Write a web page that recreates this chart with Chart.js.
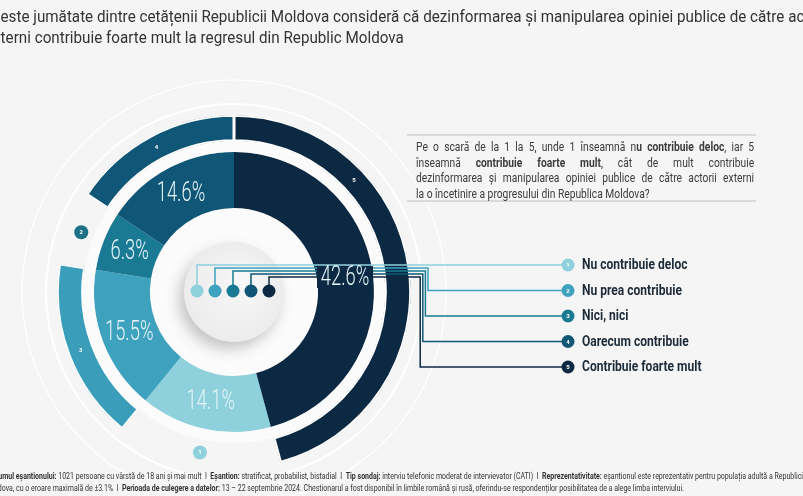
<!DOCTYPE html>
<html>
<head>
<meta charset="utf-8">
<script src="https://cdn.jsdelivr.net/npm/chart.js@4.4.1/dist/chart.umd.min.js"></script>
<style>
html, body { margin: 0; padding: 0; }
body { width: 803px; height: 496px; overflow: hidden; background: #f5f5f5; position: relative; font-family: Roboto, "Noto Sans", sans-serif; }
#c { position: absolute; left: 0; top: 0; }
.title { position: absolute; font-size: 17px; color: #333; line-height: 21px; white-space: nowrap; transform: scaleX(0.895); transform-origin: 0 0; }
.q { position: absolute; left: 407px; top: 134px; width: 349px; height: 64px; border-top: 2px solid #dadada; border-bottom: 2px solid #dadada; }
.q .t { position: absolute; left: 9px; top: 3px; width: 428px; transform: scaleX(0.79); transform-origin: 0 0; font-size: 13px; line-height: 15.7px; color: #3c3c3c; }
.q .t div { text-align: justify; text-align-last: justify; white-space: nowrap; }
.q .t div.last { text-align-last: left; }
.foot { position: absolute; font-size: 8.5px; line-height: 11px; color: #333; white-space: nowrap; transform: scaleX(0.825); transform-origin: 0 0; }
</style>
</head>
<body>
<canvas id="c" width="803" height="496"></canvas>

<div class="title" style="left:-9px; top:6px;">Peste jumătate dintre cetățenii Republicii Moldova consideră că dezinformarea și manipularea opiniei publice de către actorii</div>
<div class="title" style="left:-15px; top:27px;">externi contribuie foarte mult la regresul din Republic Moldova</div>

<div class="q"><div class="t">
  <div>Pe o scară de la 1 la 5, unde 1 înseamnă n<b>u contribuie deloc</b>, iar 5</div>
  <div>înseamnă <b>contribuie foarte mult</b>, cât de mult contribuie</div>
  <div>dezinformarea și manipularea opiniei publice de către actorii externi</div>
  <div class="last">la o încetinire a progresului din Republica Moldova?</div>
</div></div>

<div class="foot" style="left:-12px; top:471px;"><b>Volumul eșantionului:</b> 1021 persoane cu vârstă de 18 ani și mai mult &nbsp;I&nbsp; <b>Eșantion:</b> stratificat, probabilist, bistadial &nbsp;I&nbsp; <b>Tip sondaj:</b> interviu telefonic moderat de intervievator (CATI) &nbsp;I&nbsp; <b>Reprezentativitate:</b> eșantionul este reprezentativ pentru populația adultă a Republicii</div>
<div class="foot" style="left:-14px; top:483px;">Moldova, cu o eroare maximală de ±3.1% &nbsp;I&nbsp; <b>Perioada de culegere a datelor:</b> 13 – 22 septembrie 2024. Chestionarul a fost disponibil în limbile română și rusă, oferindu-se respondenților posibilitatea de a alege limba interviului.</div>

<script>
var categories = ['Nu contribuie deloc', 'Nu prea contribuie', 'Nici, nici', 'Oarecum contribuie', 'Contribuie foarte mult'];
var values = [14.1, 15.5, 6.3, 14.6, 42.6];
var legendTags = ['1', '2', '3', '4', '5'];
// outer ring: some answers get a band, the others only a small badge
var outerTags = ['1', '3', '2', '4', '5'];
var outerIsBand = [false, true, false, true, true];

var colors = ['#8fd0dd', '#3ea1be', '#1a7a94', '#0f5677', '#0c2943'];
var outerColors = ['#8fd0dd', '#3a9dba', '#1b6f87', '#0f5677', '#0c2943'];

var total = values.reduce(function(a, b) { return a + b; }, 0);
// the last answer starts at the top, the rest follow clockwise
var startAngle = values[values.length - 1] / total * 360;

function scaledText(ctx, txt, x, y, font, sx, color) {
    ctx.save();
    ctx.translate(x, y);
    ctx.scale(sx, 1);
    ctx.font = font;
    ctx.fillStyle = color;
    ctx.fillText(txt, 0, 0);
    ctx.restore();
}

function badge(ctx, x, y, r, color, txt) {
    ctx.beginPath();
    ctx.arc(x, y, r, 0, Math.PI * 2);
    ctx.fillStyle = color;
    ctx.fill();
    ctx.textAlign = 'center';
    ctx.textBaseline = 'middle';
    ctx.font = 'bold 6px Roboto';
    ctx.fillStyle = '#ffffff';
    ctx.fillText(txt, x, y + 0.5);
}

var deco = {
    id: 'deco',
    beforeDatasetsDraw: function(chart) {
        var ctx = chart.ctx;
        var a = chart.getDatasetMeta(2).data[0];
        ctx.save();
        ctx.strokeStyle = '#ffffff';
        ctx.lineWidth = 2;
        ctx.beginPath(); ctx.arc(a.x, a.y, 188, 0, Math.PI * 2); ctx.stroke();
        ctx.lineWidth = 1.2;
        ctx.beginPath(); ctx.arc(a.x, a.y, 212, 0, Math.PI * 2); ctx.stroke();
        ctx.fillStyle = '#fbfbfb';
        ctx.beginPath(); ctx.arc(a.x, a.y, a.innerRadius, 0, Math.PI * 2); ctx.fill();
        ctx.restore();
    },
    afterDatasetsDraw: function(chart) {
        var ctx = chart.ctx;
        var inner = chart.getDatasetMeta(2).data;
        var outer = chart.getDatasetMeta(0).data;
        var cx = inner[0].x, cy = inner[0].y;
        ctx.save();

        // center disc
        ctx.save();
        ctx.shadowColor = 'rgba(0,0,0,0.22)';
        ctx.shadowBlur = 14;
        ctx.shadowOffsetX = -5;
        ctx.shadowOffsetY = 7;
        var g = ctx.createRadialGradient(cx + 10, cy - 10, 5, cx, cy, 50);
        g.addColorStop(0, '#f7f7f7');
        g.addColorStop(1, '#ececec');
        ctx.fillStyle = g;
        ctx.beginPath(); ctx.arc(cx, cy, 50, 0, Math.PI * 2); ctx.fill();
        ctx.restore();

        // tags on the outer ring
        outer.forEach(function(arc, i) {
            var span = arc.endAngle - arc.startAngle;
            var mid = (arc.innerRadius + arc.outerRadius) / 2;
            if (outerIsBand[i]) {
                var ang = arc.startAngle + Math.min(span / 2, 0.82);
                ctx.textAlign = 'center';
                ctx.textBaseline = 'middle';
                ctx.font = 'bold 6px Roboto';
                ctx.fillStyle = '#ffffff';
                ctx.fillText(outerTags[i], cx + Math.cos(ang) * mid, cy + Math.sin(ang) * mid);
            } else {
                var ang2 = arc.startAngle + span / 2;
                badge(ctx, cx + Math.cos(ang2) * mid, cy + Math.sin(ang2) * mid, 7, outerColors[i], outerTags[i]);
            }
        });

        // connector lines from the center dots to the legend
        var badgeX = 568;
        ctx.lineWidth = 1.5;
        categories.forEach(function(c, i) {
            var dx = cx + (i - 2) * 18 - 1;
            var hy = cy - 27 + i * 3;
            var ry = cy - 27 + i * 25.5;
            var tx = 428 - (i - 1) * 2.6;
            ctx.strokeStyle = colors[i];
            ctx.beginPath();
            ctx.moveTo(dx, cy - 1);
            ctx.lineTo(dx, hy);
            if (i === 0) {
                ctx.lineTo(badgeX, hy);
            } else {
                ctx.lineTo(tx, hy);
                ctx.lineTo(tx, ry);
                ctx.lineTo(badgeX, ry);
            }
            ctx.stroke();
        });
        categories.forEach(function(c, i) {
            ctx.beginPath();
            ctx.arc(cx + (i - 2) * 18 - 1, cy - 1, 6.5, 0, Math.PI * 2);
            ctx.fillStyle = colors[i];
            ctx.fill();
        });

        // percentage labels on the inner ring
        inner.forEach(function(arc, i) {
            var p = arc.tooltipPosition();
            var txt = values[i].toFixed(1) + '%';
            // mask the connector lines where they pass behind a label
            if (p.x > cx && Math.abs(p.y - (cy - 21)) < 22) {
                ctx.fillStyle = colors[i];
                ctx.fillRect(p.x - 28, p.y - 11, 56, 22);
            }
            ctx.textAlign = 'center';
            ctx.textBaseline = 'middle';
            scaledText(ctx, txt, p.x, p.y + 1, '300 27px Roboto', 0.68, '#e4f4f8');
        });

        // legend
        categories.forEach(function(c, i) {
            var ry = cy - 27 + i * 25.5;
            badge(ctx, badgeX, ry, 6.5, colors[i], legendTags[i]);
            ctx.textAlign = 'left';
            ctx.textBaseline = 'middle';
            scaledText(ctx, c, badgeX + 14, ry + 0.5, 'bold 14px Roboto', 0.86, '#1d2b38');
        });
        ctx.restore();
    }
};

var ctx = document.getElementById('c').getContext('2d');
var chart = new Chart(ctx, {
    type: 'doughnut',
    data: {
        labels: categories,
        datasets: [{
            data: values,
            weight: 26,
            backgroundColor: outerColors.map(function(col, i) { return outerIsBand[i] ? col : 'rgba(0,0,0,0)'; }),
            borderColor: '#ffffff',
            borderWidth: outerIsBand.map(function(b) { return b ? 1.5 : 0; }),
            borderAlign: 'inner'
        }, {
            data: [1],
            weight: 11,
            backgroundColor: 'rgba(255,255,255,0.6)',
            borderWidth: 0
        }, {
            data: values,
            weight: 56,
            backgroundColor: colors,
            borderWidth: 0
        }]
    },
    options: {
        responsive: false,
        animation: false,
        rotation: startAngle,
        radius: 177,
        cutout: '47.5%',
        layout: { padding: { left: 0, right: 335, top: 88, bottom: 0 } },
        plugins: {
            legend: { display: false },
            tooltip: { enabled: false }
        }
    },
    plugins: [deco]
});
</script>
</body>
</html>
